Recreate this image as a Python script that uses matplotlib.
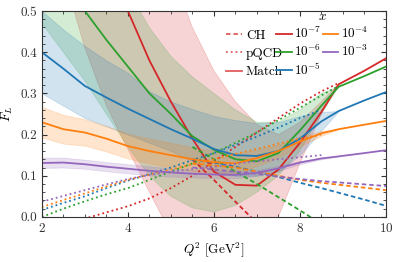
import numpy as np
import matplotlib
matplotlib.use('Agg')
from matplotlib import pyplot as plt
from matplotlib.lines import Line2D
from matplotlib.ticker import MultipleLocator

plt.rcParams['font.family'] = 'serif'
plt.rcParams['font.serif'] = ['cmr10', 'DejaVu Serif']
plt.rcParams['mathtext.fontset'] = 'cm'
plt.rcParams['axes.formatter.use_mathtext'] = True
plt.rcParams['font.size'] = 9.5

# Q^2 grid
q2 = [2, 2.5, 3, 3.5, 4, 4.5, 5, 5.5, 6, 6.5, 7, 7.5, 8, 8.5, 8.9, 9.5, 10]
q2_band = q2[:15]
q2_ch = [5.5, 6, 6.5, 7, 7.5, 8, 8.5, 9, 9.5, 10]

x_labels = [r'$10^{-7}$', r'$10^{-6}$', r'$10^{-5}$', r'$10^{-4}$', r'$10^{-3}$']
colors = ['tab:red', 'tab:green', 'tab:blue', 'tab:orange', 'tab:purple']

# matched result
match_red = [1.08, 0.92, 0.77, 0.63, 0.50, 0.38, 0.28, 0.19, 0.11, 0.078, 0.076, 0.115, 0.18, 0.255, 0.322, 0.355, 0.385]
match_green = [0.82, 0.65, 0.50, 0.43, 0.365, 0.30, 0.25, 0.196, 0.163, 0.14, 0.135, 0.155, 0.21, 0.27, 0.316, 0.342, 0.365]
match_blue = [0.40, 0.36, 0.318, 0.29, 0.263, 0.238, 0.213, 0.19, 0.165, 0.15, 0.148, 0.16, 0.19, 0.232, 0.257, 0.283, 0.303]
match_orange = [0.23, 0.213, 0.205, 0.19, 0.172, 0.16, 0.15, 0.14, 0.133, 0.13, 0.143, 0.16, 0.183, 0.203, 0.213, 0.224, 0.233]
match_purple = [0.131, 0.132, 0.128, 0.122, 0.117, 0.112, 0.108, 0.105, 0.103, 0.102, 0.107, 0.118, 0.132, 0.142, 0.147, 0.155, 0.162]

# uncertainty bands (lower / upper)
lo_red = [0.75, 0.59, 0.41, 0.27, 0.165, 0.06, -0.04, -0.12, -0.16, -0.15, -0.08, 0.0, 0.13, 0.25, 0.322]
hi_red = [1.6, 1.4, 1.2, 1.05, 0.9, 0.75, 0.6, 0.46, 0.355, 0.28, 0.225, 0.2, 0.23, 0.28, 0.322]
lo_green = [0.47, 0.4, 0.33, 0.25, 0.17, 0.1, 0.05, 0.022, 0.012, 0.028, 0.06, 0.1, 0.16, 0.25, 0.316]
hi_green = [1.1, 0.95, 0.8, 0.68, 0.55, 0.46, 0.39, 0.34, 0.3, 0.26, 0.23, 0.23, 0.26, 0.3, 0.316]
lo_blue = [0.30, 0.27, 0.24, 0.22, 0.2, 0.18, 0.16, 0.135, 0.11, 0.1, 0.1, 0.11, 0.15, 0.21, 0.257]
hi_blue = [0.5, 0.455, 0.415, 0.38, 0.35, 0.305, 0.28, 0.262, 0.245, 0.235, 0.228, 0.23, 0.245, 0.255, 0.257]
lo_orange = [0.193, 0.178, 0.173, 0.159, 0.142, 0.13, 0.12, 0.111, 0.105, 0.105, 0.123, 0.144, 0.171, 0.197, 0.213]
hi_orange = [0.267, 0.248, 0.237, 0.221, 0.202, 0.19, 0.18, 0.169, 0.161, 0.155, 0.163, 0.176, 0.195, 0.209, 0.213]
lo_purple = [0.119, 0.12, 0.117, 0.111, 0.106, 0.101, 0.098, 0.096, 0.094, 0.094, 0.1, 0.112, 0.128, 0.14, 0.147]
hi_purple = [0.144, 0.144, 0.139, 0.133, 0.128, 0.123, 0.118, 0.114, 0.112, 0.11, 0.114, 0.124, 0.136, 0.144, 0.147]

# pQCD (dotted)
pqcd_red = [-0.06, -0.03, -0.004, 0.011, 0.026, 0.045, 0.07, 0.1, 0.135, 0.17, 0.205, 0.24, 0.275, 0.305, 0.325]
pqcd_green = [0.0, 0.02, 0.038, 0.055, 0.07, 0.09, 0.11, 0.13, 0.155, 0.18, 0.205, 0.235, 0.265, 0.295, 0.318]
pqcd_blue = [0.017, 0.034, 0.05, 0.07, 0.088, 0.104, 0.12, 0.138, 0.155, 0.175, 0.195, 0.217, 0.24, 0.26]
pqcd_orange = [0.024, 0.041, 0.057, 0.074, 0.09, 0.103, 0.115, 0.128, 0.14, 0.153, 0.165, 0.178, 0.19, 0.2]
pqcd_purple = [0.037, 0.051, 0.065, 0.079, 0.092, 0.102, 0.11, 0.116, 0.122, 0.129, 0.135, 0.14, 0.145, 0.15]

# CH (dashed)
ch_red = [0.14, 0.09, 0.037, -0.015, -0.07, -0.13, -0.19, -0.25, -0.31, -0.37]
ch_green = [0.17, 0.14, 0.11, 0.08, 0.048, 0.016, -0.017, -0.05, -0.085, -0.12]
ch_blue = [0.14, 0.132, 0.122, 0.11, 0.097, 0.083, 0.07, 0.056, 0.042, 0.027]
ch_orange = [0.13, 0.125, 0.12, 0.11, 0.1, 0.09, 0.083, 0.077, 0.071, 0.065]
ch_purple = [0.12, 0.115, 0.11, 0.105, 0.098, 0.092, 0.087, 0.083, 0.079, 0.075]

matches = [match_red, match_green, match_blue, match_orange, match_purple]
los = [lo_red, lo_green, lo_blue, lo_orange, lo_purple]
his = [hi_red, hi_green, hi_blue, hi_orange, hi_purple]
pqcds = [pqcd_red, pqcd_green, pqcd_blue, pqcd_orange, pqcd_purple]
chs = [ch_red, ch_green, ch_blue, ch_orange, ch_purple]

fig = plt.figure(figsize=(3.95, 2.62), dpi=100)
ax = fig.add_axes([0.106, 0.172, 0.871, 0.786])

for i in range(5):
    c = colors[i]
    ax.fill_between(q2_band, los[i], his[i], color=c, alpha=0.2, lw=0.6)
for i in range(5):
    c = colors[i]
    ax.plot(q2[:len(pqcds[i])], pqcds[i], color=c, ls=':', lw=1.3)
    ax.plot(q2_ch, chs[i], color=c, ls=(0, (2.5, 1.6)), lw=1.3)
    ax.plot(q2, matches[i], color=c, lw=1.3)

ax.set_xlim(2, 10)
ax.set_ylim(0, 0.5)
ax.xaxis.set_major_locator(MultipleLocator(2))
ax.xaxis.set_minor_locator(MultipleLocator(0.5))
ax.yaxis.set_major_locator(MultipleLocator(0.1))
ax.yaxis.set_minor_locator(MultipleLocator(0.02))
ax.yaxis.set_major_formatter(plt.FuncFormatter(lambda v, p: '%.1f' % v))
ax.tick_params(which='both', direction='in', top=True, right=True, colors='#333333')
ax.tick_params(which='major', length=3.5)
ax.tick_params(which='minor', length=2)
for s in ax.spines.values():
    s.set_color('#333333')
ax.set_xlabel(r'$Q^2\ [\mathrm{GeV}^2]$')
ax.set_ylabel(r'$F_L$')

style_handles = [
    Line2D([], [], color='tab:red', alpha=0.75, ls=(0, (2.5, 1.6)), lw=1.3),
    Line2D([], [], color='tab:red', alpha=0.75, ls=':', lw=1.3),
    Line2D([], [], color='tab:red', alpha=0.75, lw=1.3),
]
leg1 = ax.legend(style_handles, ['CH', 'pQCD', 'Match'], loc='upper left',
                 bbox_to_anchor=(0.52, 0.935), frameon=False, handlelength=1.2,
                 handletextpad=0.3, labelspacing=0.45, borderaxespad=0)
ax.add_artist(leg1)
x_handles = [Line2D([], [], color=c, lw=1.3) for c in colors]
ax.legend(x_handles, x_labels, title=r'$x$',
          ncol=2, loc='upper left', bbox_to_anchor=(0.665, 1.025), frameon=False,
          handlelength=1.2, handletextpad=0.2, columnspacing=0.05,
          labelspacing=0.2, borderaxespad=0)

fig.savefig('out.png', dpi=100)
